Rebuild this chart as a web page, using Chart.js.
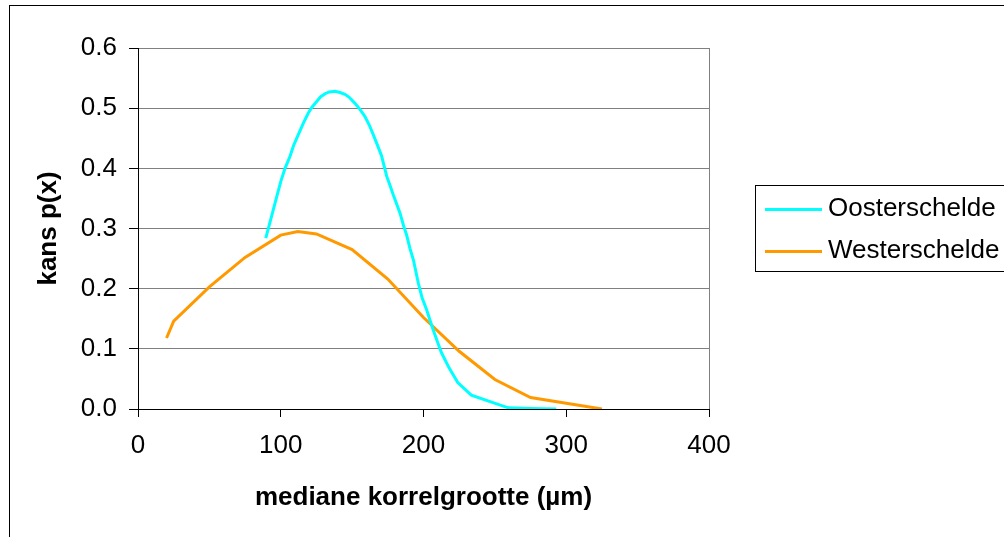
<!DOCTYPE html>
<html>
<head>
<meta charset="utf-8">
<script src="https://cdn.jsdelivr.net/npm/chart.js@4/dist/chart.umd.min.js"></script>
<style>
  html, body { margin: 0; padding: 0; background: #fff; overflow: hidden; }
  #wrap { position: relative; width: 1004px; height: 537px; }
</style>
</head>
<body>
<div id="wrap"><canvas id="c" width="1004" height="537"></canvas></div>
<script>
// ---- data ----
const seriesNames = ["Oosterschelde", "Westerschelde"];

const oosterX = [89.5, 93, 96, 100, 103, 106.5, 109, 112.3, 116, 119.3, 122, 125.2, 128, 131, 134, 138,
  141.5, 145, 148, 152, 155.5, 159, 162, 164.8, 168, 170.7, 174.2, 176.5, 178.8, 181, 183.5, 186,
  188.2, 190.5, 192.9, 196.4, 199, 202.2, 204.5, 206.9, 210, 212.7, 218, 224, 233.5, 259.4, 275, 293];
const oosterY = [0.284, 0.315, 0.342, 0.378, 0.400, 0.420, 0.438, 0.456, 0.476, 0.492, 0.502, 0.511, 0.519, 0.524, 0.527, 0.528,
  0.526, 0.523, 0.518, 0.508, 0.498, 0.486, 0.472, 0.456, 0.437, 0.420, 0.387, 0.372, 0.356, 0.342, 0.326, 0.305,
  0.289, 0.267, 0.248, 0.209, 0.185, 0.165, 0.148, 0.131, 0.110, 0.093, 0.068, 0.044, 0.023, 0.002, 0.001, 0.000];

const westerX = [20, 25, 50, 75, 100, 112, 125, 150, 175, 200, 225, 250, 275, 325];
const westerY = [0.118, 0.146, 0.203, 0.252, 0.289, 0.295, 0.291, 0.265, 0.216, 0.152, 0.096, 0.049, 0.019, 0.0];

const xTicks = [0, 100, 200, 300, 400];
const yTicks = [0.0, 0.1, 0.2, 0.3, 0.4, 0.5, 0.6];

const colors = ["#00FFFF", "#FF9900"];
const FONT = "'Liberation Sans', Arial, sans-serif";
const FS = 26;

function pts(xs, ys) { return xs.map((x, i) => ({ x: x, y: ys[i] })); }

const frame = {
  id: 'frame',
  beforeDraw(chart) {
    const ctx = chart.ctx;
    ctx.save();
    ctx.fillStyle = '#fff';
    ctx.fillRect(0, 0, chart.width, chart.height);
    ctx.strokeStyle = '#000';
    ctx.lineWidth = 1;
    ctx.strokeRect(9.5, 5.5, 2000, 2000);
    ctx.restore();
  },
  afterDraw(chart) {
    const ctx = chart.ctx;
    ctx.save();
    // legend box
    ctx.strokeStyle = '#000';
    ctx.lineWidth = 1;
    ctx.strokeRect(755.5, 185.5, 400, 86);
    ctx.font = FS + "px " + FONT;
    ctx.textBaseline = 'middle';
    ctx.textAlign = 'left';
    ctx.fillStyle = '#000';
    chart.data.datasets.forEach((ds, i) => {
      const ly = 209.5 + i * 42;
      ctx.strokeStyle = ds.borderColor;
      ctx.lineWidth = 3;
      ctx.beginPath();
      ctx.moveTo(765, ly);
      ctx.lineTo(822, ly);
      ctx.stroke();
      ctx.fillText(ds.label, 828, ly - 1);
    });
    ctx.restore();
  }
};

new Chart(document.getElementById('c'), {
  type: 'scatter',
  data: {
    datasets: [
      { label: seriesNames[0], data: pts(oosterX, oosterY), showLine: true, borderColor: colors[0],
        backgroundColor: colors[0], borderWidth: 3, pointRadius: 0, tension: 0 },
      { label: seriesNames[1], data: pts(westerX, westerY), showLine: true, borderColor: colors[1],
        backgroundColor: colors[1], borderWidth: 3, pointRadius: 0, tension: 0 }
    ]
  },
  options: {
    responsive: false,
    animation: false,
    devicePixelRatio: 1,
    layout: { padding: { left: 0, top: 48, right: 295, bottom: 0 } },
    plugins: { legend: { display: false }, tooltip: { enabled: false } },
    scales: {
      x: {
        type: 'linear', min: 0, max: 400,
        afterFit(s) { s.height = 128; },
        afterBuildTicks(s) { s.ticks = xTicks.map(v => ({ value: v })); },
        ticks: { color: '#000', font: { family: FONT, size: FS }, padding: 13, maxRotation: 0, autoSkip: false },
        grid: { color: ctx => (ctx.tick && ctx.tick.value === 400) ? '#808080' : 'rgba(0,0,0,0)',
                tickColor: '#000', tickLength: 8, lineWidth: 1 },
        border: { color: '#000', width: 1 },
        title: { display: true, text: 'mediane korrelgrootte (µm)', color: '#000',
                 font: { family: FONT, size: FS, weight: 'bold' }, padding: { top: 0, bottom: 24 } }
      },
      y: {
        type: 'linear', min: 0, max: 0.6,
        afterFit(s) { s.width = 138; },
        afterBuildTicks(s) { s.ticks = yTicks.map(v => ({ value: v })); },
        ticks: { color: '#000', font: { family: FONT, size: FS }, padding: 12, autoSkip: false,
                 callback: v => Number(v).toFixed(1) },
        grid: { color: '#808080', tickColor: '#000', tickLength: 9, lineWidth: 1 },
        border: { color: '#000', width: 1 },
        title: { display: true, text: 'kans p(x)', color: '#000',
                 font: { family: FONT, size: FS, weight: 'bold' }, padding: { top: 33, bottom: 0 } }
      }
    }
  },
  plugins: [frame]
});
</script>
</body>
</html>
